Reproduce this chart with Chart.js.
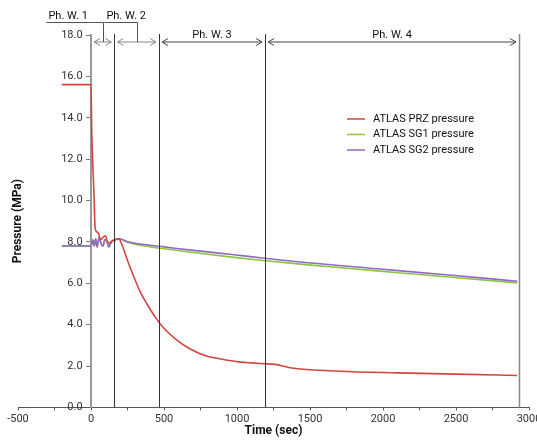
<!DOCTYPE html>
<html>
<head>
<meta charset="utf-8">
<script src="https://cdn.jsdelivr.net/npm/chart.js@4.4.1/dist/chart.umd.min.js"></script>
<style>
  html, body { margin: 0; padding: 0; background: #fff; }
</style>
</head>
<body>
<canvas id="pressureChart" width="537" height="442"></canvas>
<script>
// PRZ pressure (MPa) vs time (sec)
const przTime = [-200, 0, 5, 10, 20, 28, 40, 52, 65, 80, 100, 112, 125, 145, 165, 190, 210, 245, 294, 343, 392, 441, 490, 588, 686, 784, 882, 1020, 1100, 1192, 1260, 1363, 1705, 2116, 2500, 2920];
const przPressure = [15.6, 15.6, 13.4, 12.2, 10.4, 8.7, 8.48, 8.4, 8.1, 8.2, 8.3, 8.0, 7.95, 8.05, 8.1, 8.15, 7.9, 7.2, 6.3, 5.5, 4.9, 4.35, 3.9, 3.25, 2.8, 2.5, 2.35, 2.19, 2.15, 2.11, 2.08, 1.92, 1.75, 1.67, 1.61, 1.54];

// SG1 / SG2 pressure (MPa)
const sgTime = [-200, 0, 12, 22, 32, 42, 55, 70, 82, 95, 108, 122, 140, 165, 195, 245, 294, 392, 490, 686, 980, 1176, 1470, 1960, 2450, 2920];
const sg1Pressure = [7.8, 7.8, 8.1, 7.8, 8.15, 7.75, 8.2, 7.9, 7.8, 8.1, 8.05, 7.75, 8.0, 8.1, 8.15, 8.0, 7.9, 7.78, 7.68, 7.5, 7.25, 7.1, 6.9, 6.6, 6.3, 6.02];
const sg2Pressure = [7.8, 7.8, 8.1, 7.8, 8.15, 7.75, 8.2, 7.9, 7.8, 8.1, 8.05, 7.75, 8.0, 8.1, 8.15, 8.02, 7.95, 7.85, 7.77, 7.6, 7.38, 7.22, 7.0, 6.7, 6.4, 6.1];

// phase windows (sec)
const phaseBounds = [0, 160, 466, 1192, 2932];
const phaseLabels = ['Ph. W. 1', 'Ph. W. 2', 'Ph. W. 3', 'Ph. W. 4'];

const seriesLabels = ['ATLAS PRZ pressure', 'ATLAS SG1 pressure', 'ATLAS SG2 pressure'];
const seriesColors = ['#d2453f', '#8cc540', '#9169c0'];

const xMin = -500, xMax = 3000, yMin = 0, yMax = 18;

const FONT = "Roboto, 'Liberation Sans', Arial, sans-serif";

function toPoints(xs, ys) {
    return xs.map((x, i) => ({ x: x, y: ys[i] }));
}

function arrowHead(ctx, x, y, dir) {
    ctx.beginPath();
    ctx.moveTo(x + dir * 6, y - 3.5);
    ctx.lineTo(x, y);
    ctx.lineTo(x + dir * 6, y + 3.5);
    ctx.stroke();
}

const phasePlugin = {
    id: 'phaseWindows',
    afterDatasetsDraw(chart) {
        const ctx = chart.ctx;
        const area = chart.chartArea;
        const xs = chart.scales.x;
        const px = phaseBounds.map(b => xs.getPixelForValue(b));
        const arrowY = area.top + 7;

        ctx.save();
        // vertical boundaries
        px.forEach((p, i) => {
            if (i === 0) return;
            ctx.strokeStyle = i === px.length - 1 ? '#888' : '#333';
            ctx.lineWidth = i === px.length - 1 ? 1.5 : 1;
            ctx.beginPath();
            ctx.moveTo(Math.round(p) + 0.5, area.top - 1);
            ctx.lineTo(Math.round(p) + 0.5, area.bottom);
            ctx.stroke();
        });

        // double-headed arrows
        ctx.font = '11px ' + FONT;
        ctx.textAlign = 'center';
        ctx.textBaseline = 'alphabetic';
        for (let i = 0; i < phaseLabels.length; i++) {
            const a = px[i] + 3, b = px[i + 1] - 3;
            ctx.strokeStyle = i < 2 ? '#888' : '#444';
            ctx.lineWidth = 1;
            ctx.beginPath();
            ctx.moveTo(a, arrowY);
            ctx.lineTo(b, arrowY);
            ctx.stroke();
            arrowHead(ctx, a, arrowY, 1);
            arrowHead(ctx, b, arrowY, -1);

            const mid = (px[i] + px[i + 1]) / 2;
            ctx.fillStyle = '#111';
            if (i < 2) {
                // bracket labels above the plot
                const cx = i === 0 ? mid - 34.5 : mid - 10.5;
                const tw = ctx.measureText(phaseLabels[i]).width;
                ctx.fillText(phaseLabels[i], cx, 19);
                ctx.strokeStyle = '#555';
                ctx.beginPath();
                ctx.moveTo(cx - tw / 2 - 2, 22.5);
                ctx.lineTo(Math.round(mid) + 0.5, 22.5);
                ctx.lineTo(Math.round(mid) + 0.5, arrowY);
                ctx.stroke();
            } else {
                ctx.fillText(phaseLabels[i], mid, arrowY - 4);
            }
        }
        ctx.restore();
    },
    afterDraw(chart) {
        const ctx = chart.ctx;
        const area = chart.chartArea;
        ctx.save();

        // y axis title, reading bottom to top
        ctx.font = 'bold 12px ' + FONT;
        ctx.fillStyle = '#111';
        ctx.textAlign = 'center';
        ctx.textBaseline = 'middle';
        ctx.translate(18, (area.top + area.bottom) / 2);
        ctx.rotate(-Math.PI / 2);
        ctx.fillText('Pressure (MPa)', 0, 0);
        ctx.setTransform(1, 0, 0, 1, 0, 0);

        // legend inside the plot
        ctx.font = '11px ' + FONT;
        ctx.textAlign = 'left';
        chart.data.datasets.forEach((ds, i) => {
            const y = 119 + i * 15.5;
            ctx.strokeStyle = ds.borderColor;
            ctx.lineWidth = 1.5;
            ctx.beginPath();
            ctx.moveTo(347, y);
            ctx.lineTo(365, y);
            ctx.stroke();
            ctx.fillStyle = '#111';
            ctx.fillText(ds.label, 373, y);
        });
        ctx.restore();
    }
};

const ctx = document.getElementById('pressureChart').getContext('2d');
new Chart(ctx, {
    type: 'line',
    data: {
        datasets: [
            { label: seriesLabels[0], data: toPoints(przTime, przPressure), borderColor: seriesColors[0], order: 0 },
            { label: seriesLabels[1], data: toPoints(sgTime, sg1Pressure), borderColor: seriesColors[1], order: 2 },
            { label: seriesLabels[2], data: toPoints(sgTime, sg2Pressure), borderColor: seriesColors[2], order: 1 }
        ]
    },
    options: {
        responsive: false,
        animation: false,
        devicePixelRatio: 1,
        layout: { padding: { top: 35, left: 0, right: 0, bottom: 4 } },
        elements: {
            point: { radius: 0 },
            line: { borderWidth: 1.6, cubicInterpolationMode: 'monotone', fill: false }
        },
        plugins: {
            legend: { display: false },
            tooltip: { enabled: false }
        },
        scales: {
            x: {
                type: 'linear',
                min: xMin,
                max: xMax,
                afterFit: scale => {
                    // let the last label run off the edge like the original
                    scale.paddingLeft = 18;
                    scale.paddingRight = 8;
                },
                ticks: {
                    stepSize: 250,
                    autoSkip: false,
                    maxRotation: 0,
                    padding: 2,
                    color: '#333',
                    font: { family: FONT, size: 11 },
                    callback: v => (v % 500 === 0 ? String(v) : '')
                },
                grid: { drawOnChartArea: false, color: '#555', tickLength: 3 },
                border: { color: '#555', width: 1 },
                title: {
                    display: true,
                    text: 'Time (sec)',
                    color: '#111',
                    font: { family: FONT, size: 12, weight: 'bold' },
                    padding: { top: -4, bottom: 0 }
                }
            },
            y: {
                type: 'linear',
                min: yMin,
                max: yMax,
                position: { x: 0 },
                ticks: {
                    stepSize: 2,
                    color: '#333',
                    font: { family: FONT, size: 11 },
                    callback: v => v.toFixed(1) + '\u2002\u2005'
                },
                grid: { drawOnChartArea: false, color: '#777', tickLength: 4 },
                border: { color: '#999', width: 2 },
                title: { display: false }
            }
        }
    },
    plugins: [phasePlugin]
});
</script>
</body>
</html>
